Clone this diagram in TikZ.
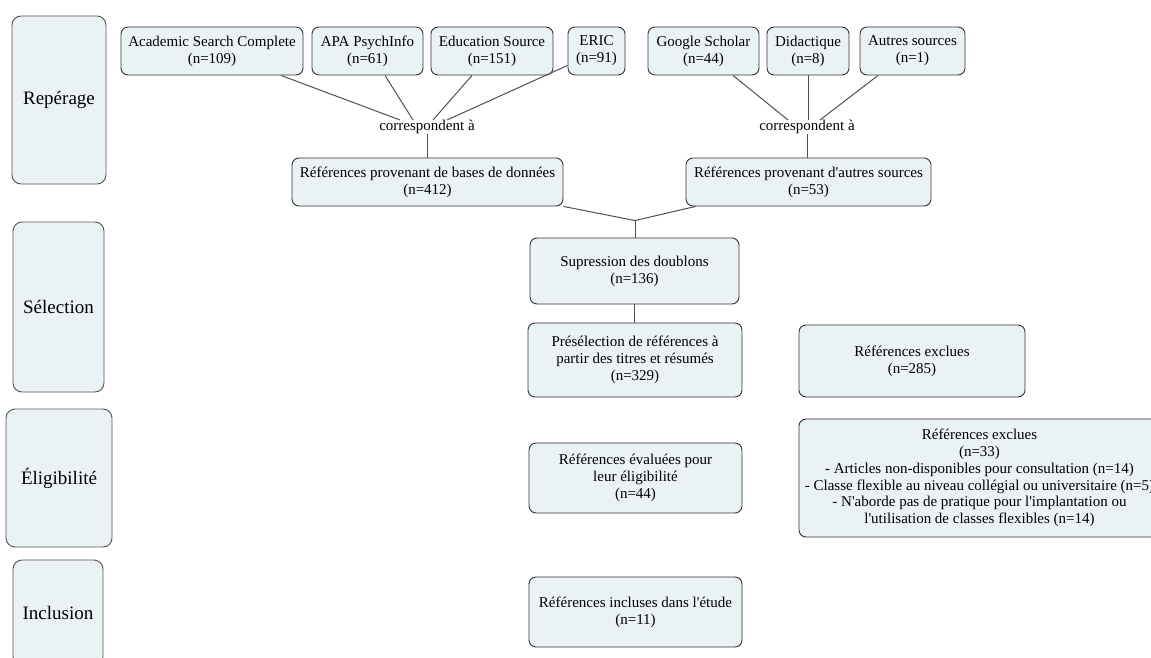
\documentclass[tikz,border=0pt]{standalone}
\usepackage{fontspec}
\setmainfont{Liberation Serif}[Ligatures=TeXOff]
\usetikzlibrary{calc}
\definecolor{boxfill}{RGB}{234,242,245}
\definecolor{boxline}{RGB}{51,51,51}
\definecolor{phaseline}{RGB}{85,85,85}
\definecolor{linkcol}{RGB}{80,80,80}
\begin{document}
\begin{tikzpicture}[x=1pt,y=-1pt,
  box/.style={draw=boxline, fill=boxfill, rounded corners=7pt, align=center, inner sep=0pt, line width=0.9pt, font=\fontsize{15}{16.8}\selectfont},
  phase/.style={draw=phaseline, fill=boxfill, rounded corners=9pt, align=center, inner sep=0pt, line width=0.9pt, font=\fontsize{19}{22}\selectfont},
  lbl/.style={inner sep=0pt, font=\fontsize{15}{16.8}\selectfont},
  link/.style={draw=linkcol, line width=1pt}]
\useasboundingbox (0,0) rectangle (1151,658);
\clip (0,0) rectangle (1151,658);
% phase boxes
\node[phase, minimum width=94pt, minimum height=168pt] (rep) at (59,100) {Repérage};
\node[phase, minimum width=91pt, minimum height=170pt] (sel) at (58.5,307) {Sélection};
\node[phase, minimum width=106pt, minimum height=138pt] (eli) at (59,478) {Éligibilité};
\node[phase, minimum width=90pt, minimum height=106pt] (inc) at (58,613) {Inclusion};
% sources
\node[box, minimum width=182pt, minimum height=48pt] (asc) at (212,51) {Academic Search Complete\\(n=109)};
\node[box, minimum width=111pt, minimum height=48pt] (apa) at (367.5,51) {APA PsychInfo\\(n=61)};
\node[box, minimum width=122pt, minimum height=48pt] (edu) at (492,51) {Education Source\\(n=151)};
\node[box, minimum width=57pt, minimum height=48pt] (eric) at (596.5,51) {ERIC\\(n=91)};
\node[box, minimum width=111pt, minimum height=48pt] (gs) at (703.5,51) {Google Scholar\\(n=44)};
\node[box, minimum width=82pt, minimum height=48pt] (did) at (808,51) {Didactique\\(n=8)};
\node[box, minimum width=105pt, minimum height=48pt] (aut) at (912.5,51) {Autres sources\\(n=1)};
% labels
\node[lbl] (corrL) at (427,127) {correspondent à};
\node[lbl] (corrR) at (807,127) {correspondent à};
% totals
\node[box, minimum width=271pt, minimum height=48pt] (refdb) at (427.5,182) {Références provenant de bases de données\\(n=412)};
\node[box, minimum width=245pt, minimum height=48pt] (refaut) at (808.5,182) {Références provenant d'autres sources\\(n=53)};
% flow
\node[box, minimum width=209pt, minimum height=66pt] (sup) at (634.5,271) {Supression des doublons\\(n=136)};
\node[box, minimum width=214pt, minimum height=74pt] (pre) at (635,360) {Présélection de références à\\partir des titres et résumés\\(n=329)};
\node[box, minimum width=226pt, minimum height=72pt] (exc1) at (912,361) {Références exclues\\(n=285)};
\node[box, minimum width=213pt, minimum height=70pt] (eva) at (635.5,478) {Références évaluées pour\\leur éligibilité\\(n=44)};
\node[box, minimum width=361pt, minimum height=118pt] (exc2) at (979.5,478) {Références exclues\\(n=33)\\- Articles non-disponibles pour consultation (n=14)\\- Classe flexible au niveau collégial ou universitaire (n=5)\\- N'aborde pas de pratique pour l'implantation ou\\l'utilisation de classes flexibles (n=14)};
\node[box, minimum width=213pt, minimum height=70pt] (incl) at (635.5,612) {Références incluses dans l'étude\\(n=11)};
% connectors
\draw[link] ($(asc.south)+(69,0)$) -- ($(corrL.north)+(-27,0)$);
\draw[link] ($(apa.south)+(17.5,0)$) -- ($(corrL.north)+(-14,0)$);
\draw[link] ($(edu.south)+(-20,0)$) -- ($(corrL.north)+(6,0)$);
\draw[link] ($(eric.south west)+(0,-10)$) -- ($(corrL.north)+(20,0)$);
\draw[link] (corrL.south) -- (corrL.south |- refdb.north);
\draw[link] ($(gs.south)+(29.5,0)$) -- ($(corrR.north)+(-19,0)$);
\draw[link] (did.south) -- (did.south |- corrR.north);
\draw[link] ($(aut.south)+(-34.5,0)$) -- ($(corrR.north)+(13,0)$);
\draw[link] (corrR.south) -- (corrR.south |- refaut.north);
\coordinate (merge) at ($(sup.north)+(0.5,-17)$);
\draw[link] (refdb.south east) -- (merge);
\draw[link] ($(refaut.south west)+(10,0)$) -- (merge);
\draw[link] (merge) -- (merge |- sup.north);
\draw[link] (sup.south) -- (sup.south |- pre.north);
\end{tikzpicture}
\end{document}
